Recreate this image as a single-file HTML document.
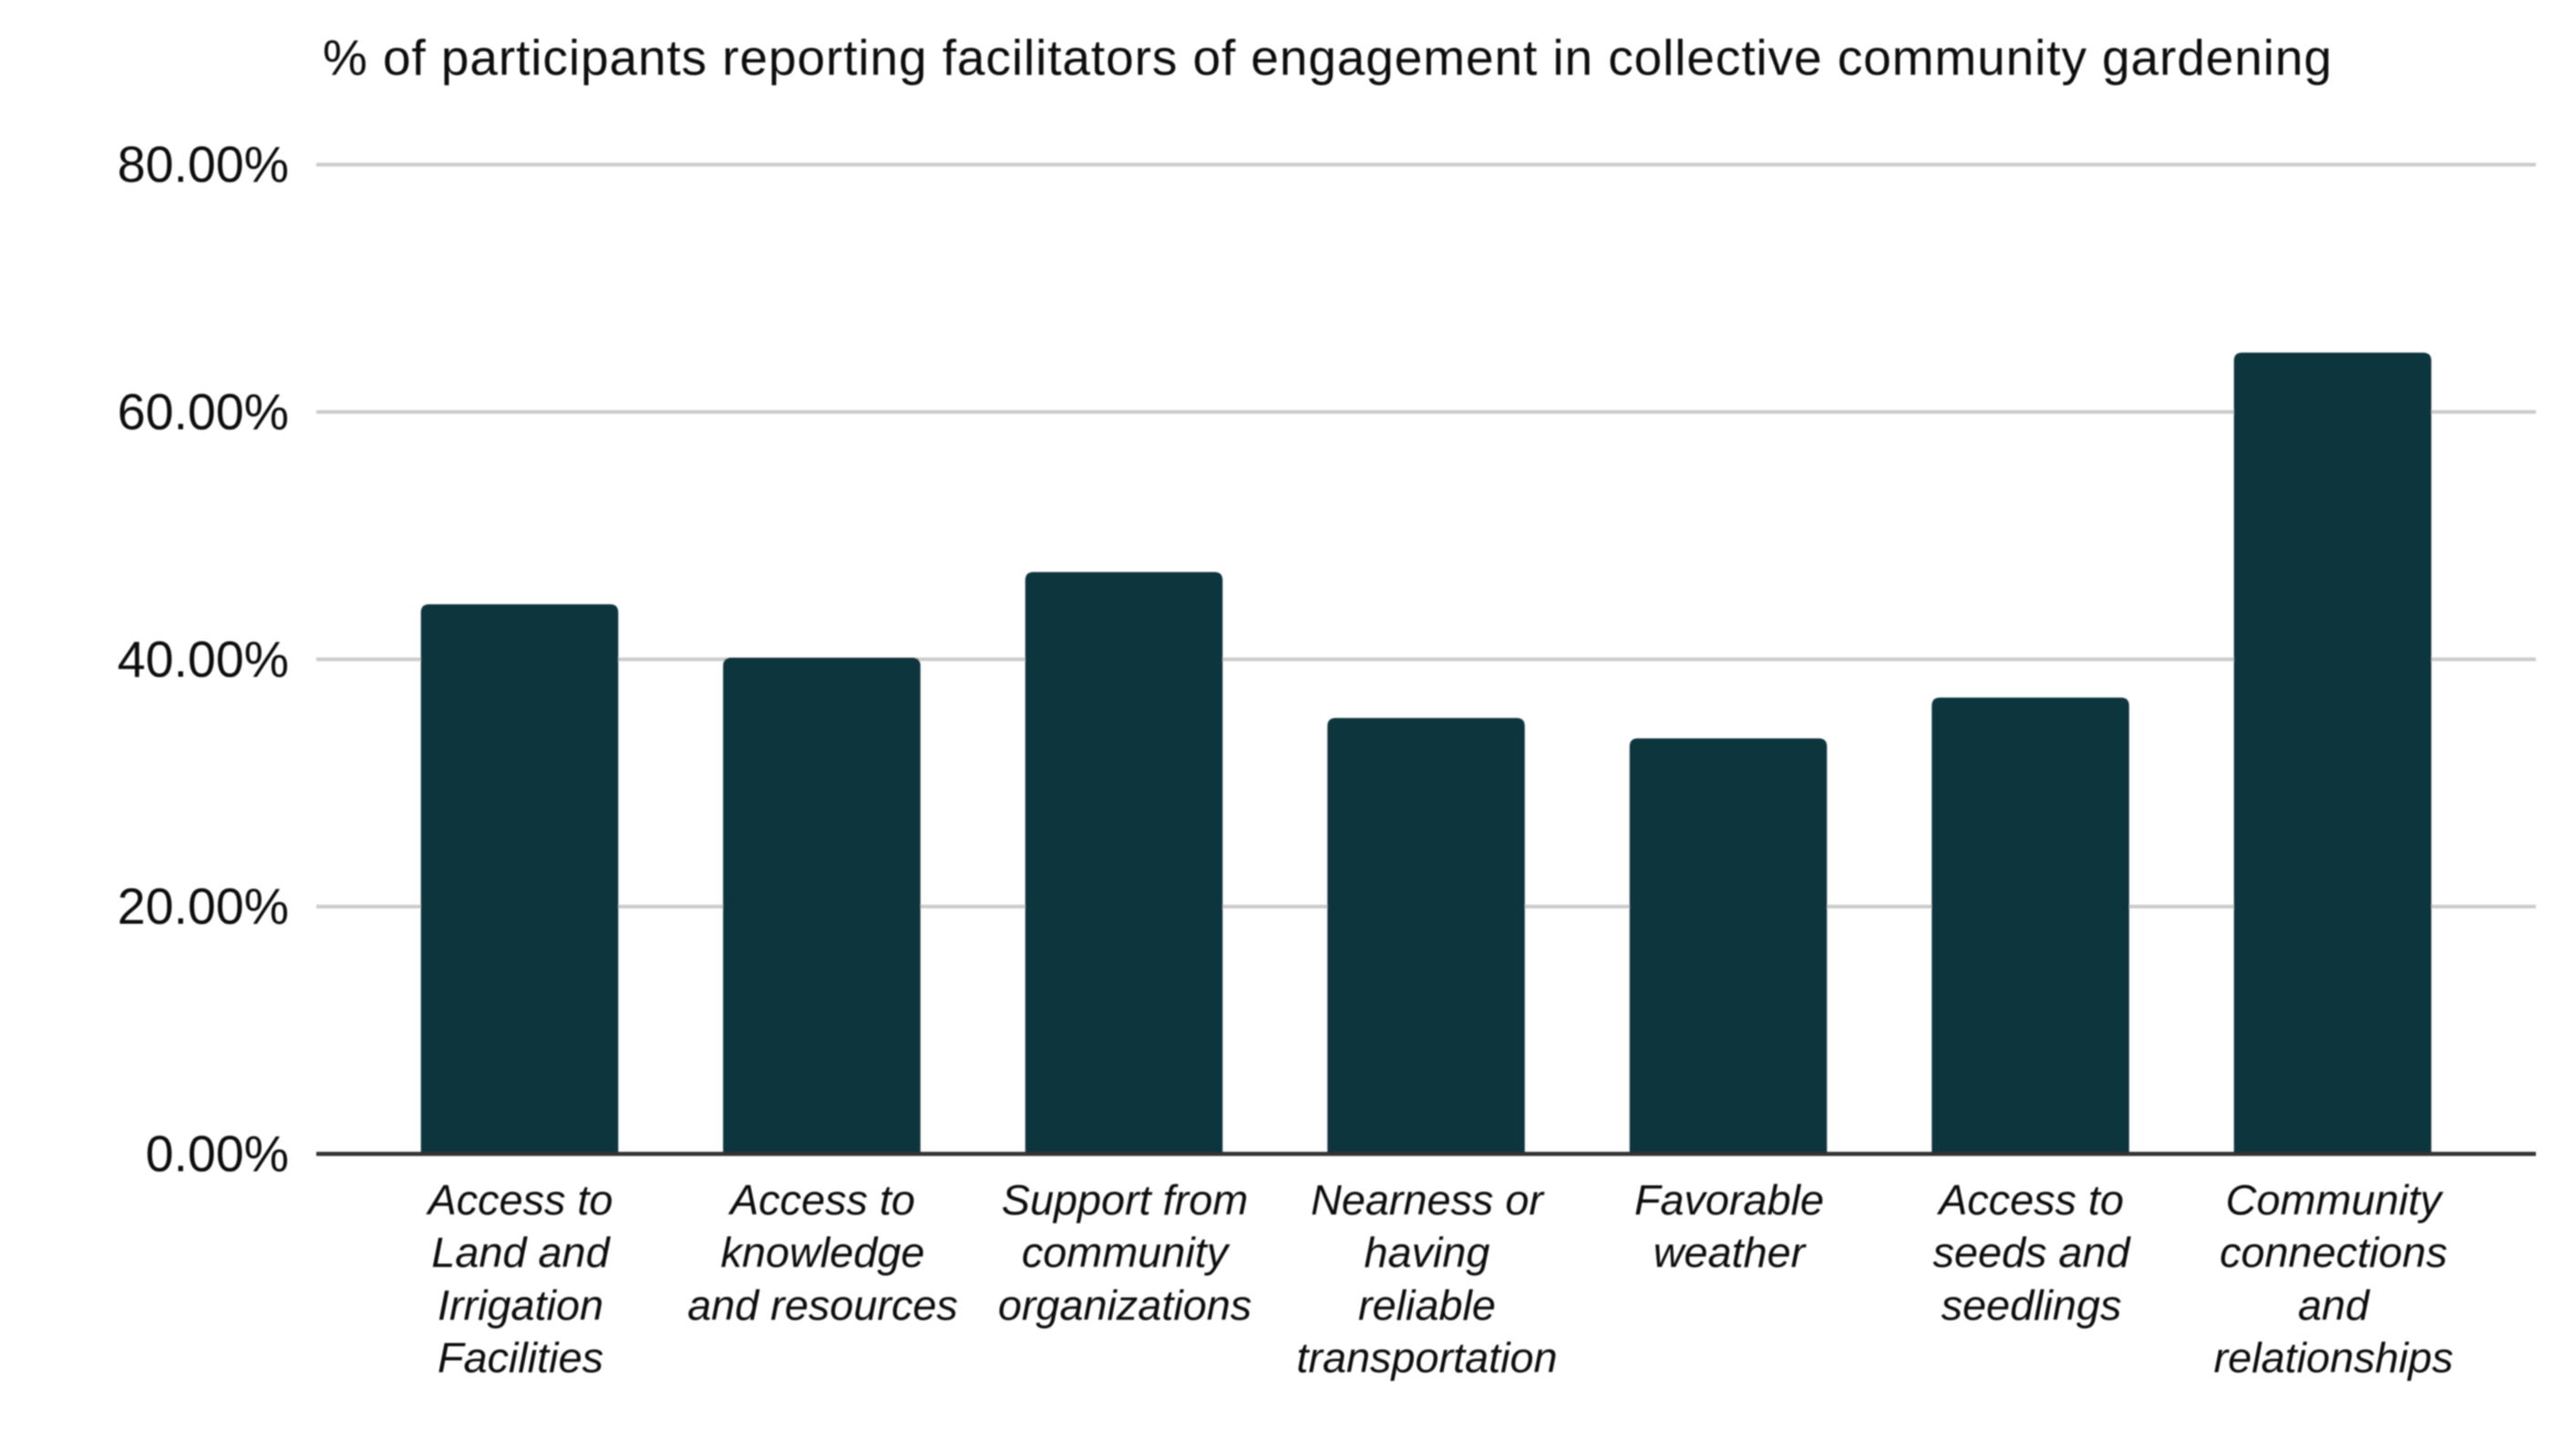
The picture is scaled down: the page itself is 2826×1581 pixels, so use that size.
<!DOCTYPE html>
<html lang="en">
<head>
<meta charset="utf-8">
<title>Facilitators of engagement in collective community gardening</title>
<style>
  html, body { margin: 0; padding: 0; background: #ffffff; }
  #chart { display: block; width: 2826px; height: 1581px; }
  text { font-family: "Liberation Sans", Arial, sans-serif; fill: #0a0a0a; }
</style>
</head>
<body>
<svg id="chart" xmlns="http://www.w3.org/2000/svg" width="2826" height="1581" viewBox="0 0 2826 1581">
  <defs>
    <filter id="soft" x="-2%" y="-2%" width="104%" height="104%">
      <feGaussianBlur stdDeviation="0.8"/>
    </filter>
  </defs>
  <rect x="0" y="0" width="2826" height="1581" fill="#ffffff"/>
  <g id="root" filter="url(#soft)">
    <text x="354" y="82" font-size="55" textLength="2204" lengthAdjust="spacing">% of participants reporting facilitators of engagement in collective community gardening</text>
    <g id="grid"></g>
    <g id="yLabels"></g>
    <g id="bars"></g>
    <g id="xLabels"></g>
    <line id="axis" stroke="#333333" stroke-width="4.5"></line>
  </g>
</svg>
<script>
const categories = [
  "Access to Land and Irrigation Facilities",
  "Access to knowledge and resources",
  "Support from community organizations",
  "Nearness or having reliable transportation",
  "Favorable weather",
  "Access to seeds and seedlings",
  "Community connections and relationships"
];
const categoryLines = [
  ["Access to", "Land and", "Irrigation", "Facilities"],
  ["Access to", "knowledge", "and resources"],
  ["Support from", "community", "organizations"],
  ["Nearness or", "having", "reliable", "transportation"],
  ["Favorable", "weather"],
  ["Access to", "seeds and", "seedlings"],
  ["Community", "connections", "and", "relationships"]
];
const values = [44.45, 40.13, 47.05, 35.25, 33.6, 36.9, 64.8];
const tickValues = [0, 20, 40, 60, 80];
const tickLabels = ["0.00%", "20.00%", "40.00%", "60.00%", "80.00%"];

const SVG_NS = "http://www.w3.org/2000/svg";
const plotLeft = 347, plotRight = 2782;
const yZero = 1266, pxPerUnit = 13.567;
const firstCenter = 570, bandStep = 331.5, barWidth = 216.5, cornerRadius = 9;

function yScale(v) { return yZero - v * pxPerUnit; }
function xScale(i) { return firstCenter + i * bandStep; }

const grid = document.getElementById("grid");
const yLabels = document.getElementById("yLabels");
const bars = document.getElementById("bars");
const xLabels = document.getElementById("xLabels");
const axis = document.getElementById("axis");

tickValues.forEach(function (t, i) {
  const y = yScale(t);
  if (t !== 0) {
    const line = document.createElementNS(SVG_NS, "line");
    
    
    line.setAttribute("x1", plotLeft);
    line.setAttribute("x2", plotRight);
    line.setAttribute("y1", y);
    line.setAttribute("y2", y);
    line.setAttribute("stroke", "#cccccc");
    line.setAttribute("stroke-width", "4");
    grid.appendChild(line);
  }
  const label = document.createElementNS(SVG_NS, "text");
  
  
  label.setAttribute("x", 317);
  label.setAttribute("y", y + 19);
  label.setAttribute("font-size", "55.5");
  label.setAttribute("text-anchor", "end");
  label.textContent = tickLabels[i];
  yLabels.appendChild(label);
});

values.forEach(function (v, i) {
  const cx = xScale(i);
  const left = cx - barWidth / 2;
  const right = cx + barWidth / 2;
  const top = yScale(v);
  const r = cornerRadius;
  const path = document.createElementNS(SVG_NS, "path");
  
  
  path.setAttribute("d",
    "M" + left + " " + yZero +
    "V" + (top + r) +
    "Q" + left + " " + top + " " + (left + r) + " " + top +
    "H" + (right - r) +
    "Q" + right + " " + top + " " + right + " " + (top + r) +
    "V" + yZero + "Z");
  path.setAttribute("fill", "#0e343d");
  const tip = document.createElementNS(SVG_NS, "title");
  tip.textContent = categories[i] + ": " + v + "%";
  path.appendChild(tip);
  bars.appendChild(path);

  const label = document.createElementNS(SVG_NS, "text");
  
  
  label.setAttribute("font-size", "46.8");
  label.setAttribute("font-style", "italic");
  label.setAttribute("text-anchor", "middle");
  categoryLines[i].forEach(function (lineText, j) {
    const span = document.createElementNS(SVG_NS, "tspan");
    span.setAttribute("x", cx + 1);
    span.setAttribute("y", 1332.5 + j * 57.7);
    span.textContent = lineText;
    label.appendChild(span);
  });
  xLabels.appendChild(label);
});

axis.setAttribute("x1", plotLeft);
axis.setAttribute("x2", plotRight);
axis.setAttribute("y1", yZero);
axis.setAttribute("y2", yZero);
</script>
</body>
</html>
